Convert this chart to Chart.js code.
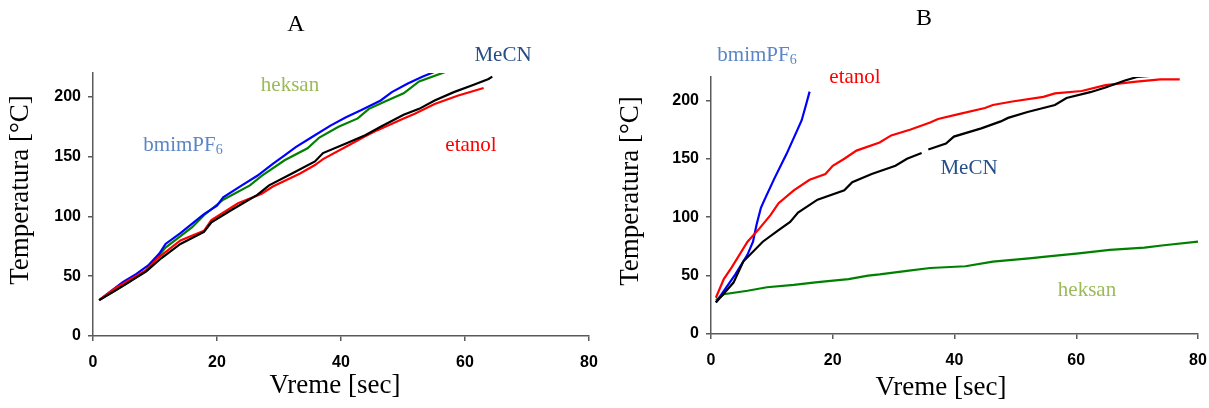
<!DOCTYPE html>
<html>
<head>
<meta charset="utf-8">
<script src="https://cdn.jsdelivr.net/npm/chart.js"></script>
<style>
  html, body { margin: 0; padding: 0; background: #fff; }
  #wrap { position: relative; width: 1209px; height: 408px; overflow: hidden; }
  #pa { position: absolute; left: 0; top: 0; }
  #pb { position: absolute; left: 600px; top: 0; }
</style>
</head>
<body>
<div id="wrap">
  <canvas id="pa" width="600" height="408"></canvas>
  <canvas id="pb" width="609" height="408"></canvas>
</div>
<script>
// ---- tick labels ----
const xTicks = [0, 20, 40, 60, 80];
const yTicks = [0, 50, 100, 150, 200];

// ---- Panel A ----
const aBmimX = [1, 3, 4.8, 7, 8.9, 10.7, 11.7, 14.1, 16, 17.9, 20, 21, 24, 26.5, 29, 30.9, 32.7, 35.2, 38.3, 40.8, 43.3, 46.4, 48.2, 50.7, 53.2, 55.1];
const aBmimY = [30, 38, 45, 52, 59, 69, 77, 86, 94, 102, 109, 116, 126, 134, 144, 151, 158, 166, 176, 183, 189, 197, 204, 211, 217, 221];
const aHekX = [1, 5.5, 8.6, 11.7, 16, 17.9, 21, 25.3, 27.2, 30.9, 34.6, 36.5, 39.6, 42.7, 44.5, 47, 50.1, 52.6, 56.9];
const aHekY = [30, 44, 55, 74, 91, 101, 114, 126, 134, 147, 157, 166, 175, 182, 190, 196, 203, 213, 221];
const aMeX = [1, 3.6, 8.6, 11, 14.1, 17.9, 19.1, 22.2, 26.5, 28.4, 32.1, 35.8, 37.1, 40.8, 43.9, 46.4, 50.1, 52.6, 55.1, 58.2, 61.3, 63.8, 64.4];
const aMeY = [30, 38, 54, 65, 77, 87, 95, 105, 118, 126, 136, 146, 153, 161, 168, 175, 185, 190, 197, 204, 210, 215, 217];
const aEtX = [1, 3.6, 8.6, 10.4, 14.1, 17.9, 19.1, 23.4, 27.2, 29, 33.4, 35.8, 37.1, 41.4, 43.9, 45.8, 50.1, 51.9, 55.1, 58.8, 63];
const aEtY = [30, 40, 55, 65, 80, 88, 97, 111, 119, 125, 136, 143, 148, 160, 167, 172, 182, 186, 194, 201, 207.5];

// ---- Panel B ----
const bBmimX = [0.8, 4, 6, 6.9, 7.5, 8.2, 8.8, 10.4, 12.4, 14.3, 14.9, 15.6, 16.2];
const bBmimY = [27, 51, 68, 79, 94, 108, 115, 133, 154, 176, 183, 196, 207.5];
const bEtX = [0.8, 2.1, 3.4, 6, 7.9, 9.8, 11.1, 13.6, 16.2, 18.8, 20, 21.9, 23.9, 27.7, 29.6, 32.8, 36, 37.3, 40.5, 45, 46.3, 49.5, 54.6, 56.5, 60.9, 64.8, 69.9, 73.8, 77];
const bEtY = [31, 47, 57, 79, 90, 102, 112, 123, 132, 137, 144, 150, 157, 164, 170, 175, 181, 184, 188, 193.5, 196, 199, 203, 206, 208, 213, 216, 218, 218];
const bMeX = [0.8, 3.7, 5.3, 8.5, 11.1, 13, 14.3, 17.5, 21.9, 23.2, 26.4, 30.3, 32.2, 34.6, 35.1, 35.7, 38.6, 39.9, 44.4, 47.6, 48.8, 52, 56.5, 58.4, 62.3, 64.8, 68, 70, 72.2];
const bMeY = [27, 44, 62, 79, 89, 96, 104, 115, 123, 130, 137, 144, 150, 155, null, 158, 163, 169, 176, 182, 185, 190, 196, 202, 207, 211, 217, 220, 221];
const bHekX = [0.8, 2.1, 6, 9.2, 13.6, 16.8, 18.8, 22.6, 25.8, 27.7, 32.2, 36, 41.8, 46.3, 52.7, 54.6, 60.4, 65.5, 71.2, 74.4, 80];
const bHekY = [29, 34, 37, 40, 42, 44, 45, 47, 50, 51, 54, 56.5, 58, 62, 65, 66, 69, 72, 74, 76, 79];

function pts(xs, ys) { return xs.map((x, i) => ({ x: x, y: ys[i] })); }

const serif = '"Liberation Serif", "Times New Roman", serif';

const textPlugin = {
  id: 'texts',
  afterDraw(chart, args, opts) {
    const ctx = chart.ctx;
    for (const t of opts.items) {
      ctx.save();
      ctx.font = t.size + 'px ' + serif;
      ctx.fillStyle = t.color || '#000';
      ctx.textBaseline = 'middle';
      if (t.rot) {
        ctx.translate(t.x, t.y);
        ctx.rotate(-Math.PI / 2);
        ctx.textAlign = 'center';
        ctx.fillText(t.text, 0, 0);
      } else if (t.sub) {
        const w1 = ctx.measureText(t.text).width;
        const subSize = Math.round(t.size * 0.65);
        ctx.font = subSize + 'px ' + serif;
        const w2 = ctx.measureText(t.sub).width;
        const x0 = t.x - (w1 + w2) / 2;
        ctx.textAlign = 'left';
        ctx.font = t.size + 'px ' + serif;
        ctx.fillText(t.text, x0, t.y);
        ctx.font = subSize + 'px ' + serif;
        ctx.fillText(t.sub, x0 + w1, t.y + 5);
      } else {
        ctx.textAlign = 'center';
        ctx.fillText(t.text, t.x, t.y);
      }
      ctx.restore();
    }
  }
};

function line(data, color) {
  return { data: data, borderColor: color, backgroundColor: color, borderWidth: 2.2,
           pointRadius: 0, tension: 0, fill: false, spanGaps: false };
}

function makeChart(id, datasets, dims, items) {
  const axisColor = '#5a5a5a';
  const tickFont = { family: '"Liberation Sans", Arial, sans-serif', size: 16, weight: 'bold' };
  return new Chart(document.getElementById(id), {
    type: 'line',
    data: { datasets: datasets },
    plugins: [textPlugin],
    options: {
      responsive: false,
      animation: false,
      devicePixelRatio: 1,
      layout: { padding: { left: 0, right: dims.right, top: dims.top, bottom: 0 } },
      plugins: { legend: { display: false }, tooltip: { enabled: false }, texts: { items: items } },
      scales: {
        x: {
          type: 'linear', min: 0, max: 80,
          afterFit: (s) => { s.height = dims.bottom; s.paddingLeft = 0; s.paddingRight = 0; },
          afterBuildTicks: (s) => { s.ticks = xTicks.map(v => ({ value: v })); },
          grid: { drawOnChartArea: false, drawTicks: true, tickLength: 5, color: axisColor, lineWidth: 1.5 },
          border: { display: true, color: axisColor, width: 1.5 },
          ticks: { color: '#000', font: tickFont, padding: 12, maxRotation: 0, autoSkip: false }
        },
        y: {
          type: 'linear', min: 0, max: 220,
          afterFit: (s) => { s.width = dims.left; s.paddingTop = 0; s.paddingBottom = 0; },
          afterBuildTicks: (s) => { s.ticks = yTicks.map(v => ({ value: v })); },
          grid: { drawOnChartArea: false, drawTicks: true, tickLength: 5, color: axisColor, lineWidth: 1.5 },
          border: { display: true, color: axisColor, width: 1.5 },
          ticks: { color: '#000', font: tickFont, padding: 7, autoSkip: false }
        }
      }
    }
  });
}

const cBlue = '#0000ff', cGreen = '#008000', cBlack = '#000000', cRed = '#ff0000';
const lBmim = '#5a86c5', lHek = '#9bbb59', lMe = '#254f86', lEt = '#ff0000';

makeChart('pa', [
  line(pts(aMeX, aMeY), cBlack),
  line(pts(aEtX, aEtY), cRed),
  line(pts(aBmimX, aBmimY), cBlue),
  line(pts(aHekX, aHekY), cGreen)
], { left: 93, right: 11, top: 73, bottom: 72 }, [
  { text: 'A', x: 296, y: 25, size: 24 },
  { text: 'MeCN', x: 503, y: 55, size: 21, color: lMe },
  { text: 'heksan', x: 290, y: 85, size: 21, color: lHek },
  { text: 'bmimPF', sub: '6', x: 183, y: 145, size: 21, color: lBmim },
  { text: 'etanol', x: 471, y: 145, size: 21, color: lEt },
  { text: 'Temperatura [°C]', x: 21, y: 190, size: 27, rot: true },
  { text: 'Vreme [sec]', x: 335, y: 386, size: 27 }
]);

makeChart('pb', [
  line(pts(bMeX, bMeY), cBlack),
  line(pts(bEtX, bEtY), cRed),
  line(pts(bBmimX, bBmimY), cBlue),
  line(pts(bHekX, bHekY), cGreen)
], { left: 111, right: 11, top: 77, bottom: 74 }, [
  { text: 'B', x: 324, y: 19, size: 24 },
  { text: 'bmimPF', sub: '6', x: 157, y: 55, size: 21, color: lBmim },
  { text: 'etanol', x: 255, y: 77, size: 21, color: lEt },
  { text: 'MeCN', x: 369, y: 168, size: 21, color: lMe },
  { text: 'heksan', x: 487, y: 290, size: 21, color: lHek },
  { text: 'Temperatura [°C]', x: 31, y: 191, size: 27, rot: true },
  { text: 'Vreme [sec]', x: 341, y: 388, size: 27 }
]);
</script>
</body>
</html>
